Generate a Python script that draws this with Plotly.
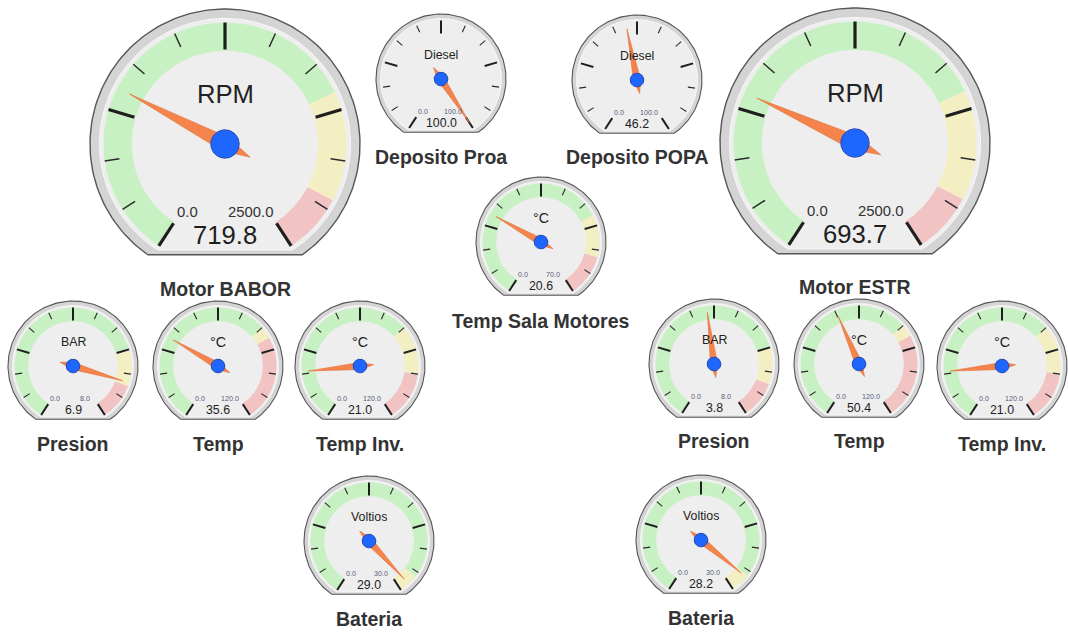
import numpy as np
import plotly.graph_objects as go

# ---- gauge data ----
titles = ["Motor BABOR", "Deposito Proa", "Deposito POPA", "Motor ESTR", "Temp Sala Motores",
          "Presion", "Temp", "Temp Inv.", "Presion", "Temp", "Temp Inv.", "Bateria", "Bateria"]
units = ["RPM", "Diesel", "Diesel", "RPM", "°C", "BAR", "°C", "°C", "BAR", "°C", "°C",
         "Voltios", "Voltios"]
values = [719.8, 100.0, 46.2, 693.7, 20.6, 6.9, 35.6, 21.0, 3.8, 50.4, 21.0, 29.0, 28.2]
mins = [0.0] * 13
maxs = [2500.0, 100.0, 100.0, 2500.0, 70.0, 8.0, 120.0, 120.0, 8.0, 120.0, 120.0, 30.0, 30.0]
# band limits (None = no band); green from min, yellow from green_to, red from yellow_to to max
green_to = [1800, None, None, 1800, 50, 6, 80, 80, 6, 80, 80, 28, 28]
yellow_to = [2250, None, None, 2250, 60, 7, 85, 100, 7, 85, 100, 30, 30]

# ---- dashboard arrangement: centre x, centre y, radius, title y ----
arrangement = [
    (225, 144, 135, 289), (441, 79, 65, 157), (637, 80, 65, 157), (855, 143, 135, 287),
    (541, 242, 65, 321), (73, 366, 65, 444), (218, 366, 65, 444), (360, 366, 65, 444),
    (714, 364, 65, 441), (859, 364, 65, 441), (1002, 366, 65, 444),
    (369, 541, 65, 619), (701, 540, 65, 618),
]

SPAN = 147.0  # degrees either side of vertical
FONT = "Liberation Sans, Arial, sans-serif"
GREEN, YELLOW, RED = "#c8f1c3", "#f4efc3", "#f1c3c3"

fig = go.Figure()
annotations = []


def ang(v, lo, hi):
    return np.radians(-SPAN + 2 * SPAN * (v - lo) / (hi - lo))


def pt(cx, cy, r, th):
    return cx + r * np.sin(th), cy - r * np.cos(th)


def poly(xs, ys, fill, line="rgba(0,0,0,0)", lw=0):
    fig.add_trace(go.Scatter(x=list(xs), y=list(ys), mode="lines", fill="toself",
                             fillcolor=fill, line=dict(color=line, width=lw),
                             hoverinfo="skip", showlegend=False))


def body(cx, cy, r, cut, fill, line, lw):
    # circle clipped by a flat chord at cy + cut
    tc = np.arccos(-cut / r)
    th = np.linspace(-tc, tc, 160)
    xs, ys = pt(cx, cy, r, th)
    xs = np.append(xs, xs[0])
    ys = np.append(ys, ys[0])
    poly(xs, ys, fill, line, lw)


def band(cx, cy, R, lo, hi, v0, v1, color):
    t = np.linspace(ang(v0, lo, hi), ang(v1, lo, hi), 60)
    xo, yo = pt(cx, cy, 0.90 * R, t)
    xi, yi = pt(cx, cy, 0.69 * R, t[::-1])
    xs = np.concatenate([xo, xi, xo[:1]])
    ys = np.concatenate([yo, yi, yo[:1]])
    poly(xs, ys, color)


for i in range(len(titles)):
    cx, cy, R, ty = arrangement[i]
    lo, hi, v = mins[i], maxs[i], values[i]
    big = R > 100

    body(cx, cy, R, 0.82 * R, "#d4d4d4", "#555555", 1.4 if big else 1.1)
    body(cx, cy, 0.93 * R, 0.785 * R, "#eeeeee", "#f8f8f8", 1.0)

    if green_to[i] is not None:
        band(cx, cy, R, lo, hi, lo, green_to[i], GREEN)
        if yellow_to[i] is not None and yellow_to[i] > green_to[i]:
            band(cx, cy, R, lo, hi, green_to[i], yellow_to[i], YELLOW)
        if yellow_to[i] is not None and yellow_to[i] < hi:
            band(cx, cy, R, lo, hi, yellow_to[i], hi, RED)

    # ticks: 5 major, 2 minor between each pair
    mx, my, nx, ny = [], [], [], []
    for k in range(13):
        th = np.radians(-SPAN + 2 * SPAN * k / 12)
        if k % 3 == 0:
            x0, y0 = pt(cx, cy, 0.70 * R, th)
            x1, y1 = pt(cx, cy, 0.90 * R, th)
            mx += [x0, x1, None]
            my += [y0, y1, None]
        else:
            x0, y0 = pt(cx, cy, 0.79 * R, th)
            x1, y1 = pt(cx, cy, 0.90 * R, th)
            nx += [x0, x1, None]
            ny += [y0, y1, None]
    fig.add_trace(go.Scatter(x=mx, y=my, mode="lines",
                             line=dict(color="#1e1e1e", width=3.2 if big else 2.0),
                             hoverinfo="skip", showlegend=False))
    fig.add_trace(go.Scatter(x=nx, y=ny, mode="lines",
                             line=dict(color="#2a2a2a", width=1.5 if big else 1.1),
                             hoverinfo="skip", showlegend=False))

    # labels
    unit_size = 0.19 * R if units[i] != "°C" else 0.22 * R
    annotations.append(dict(x=cx, y=cy - 0.37 * R, text=units[i], showarrow=False,
                            font=dict(family=FONT, size=unit_size, color="#222222")))
    small_col = "#333333" if big else "#55607a"
    annotations.append(dict(x=cx - 0.28 * R, y=cy + 0.505 * R, text=f"{lo:.1f}", showarrow=False,
                            font=dict(family=FONT, size=0.11 * R, color=small_col)))
    annotations.append(dict(x=cx + 0.19 * R, y=cy + 0.505 * R, text=f"{hi:.1f}", showarrow=False,
                            font=dict(family=FONT, size=0.11 * R, color=small_col)))
    annotations.append(dict(x=cx, y=cy + 0.675 * R, text=f"{v:.1f}", showarrow=False,
                            font=dict(family=FONT, size=0.19 * R, color="#1e1e1e")))
    annotations.append(dict(x=cx, y=ty, text=f"<b>{titles[i]}</b>", showarrow=False,
                            font=dict(family=FONT, size=19.5, color="#333333")))

    # needle
    th = ang(v, lo, hi)
    tipx, tipy = pt(cx, cy, 0.80 * R, th)
    tlx, tly = pt(cx, cy, -0.21 * R, th)
    w = 0.055 * R
    px, py = np.cos(th) * w, np.sin(th) * w
    poly([tipx, cx + px, tlx, cx - px, tipx], [tipy, cy + py, tly, cy - py, tipy],
         "#f4844b", "#e0703c", 0.6)

    # hub
    t = np.linspace(0, 2 * np.pi, 60)
    hr = 0.105 * R
    poly(cx + hr * np.cos(t), cy + hr * np.sin(t), "#1f66ff", "#2446b0", 1.0)

fig.update_layout(
    width=1068, height=635, autosize=False,
    margin=dict(l=0, r=0, t=0, b=0),
    paper_bgcolor="white", plot_bgcolor="white",
    xaxis=dict(range=[0, 1068], visible=False, fixedrange=True),
    yaxis=dict(range=[635, 0], visible=False, fixedrange=True),
    annotations=annotations,
)

fig.write_html("out.html")
